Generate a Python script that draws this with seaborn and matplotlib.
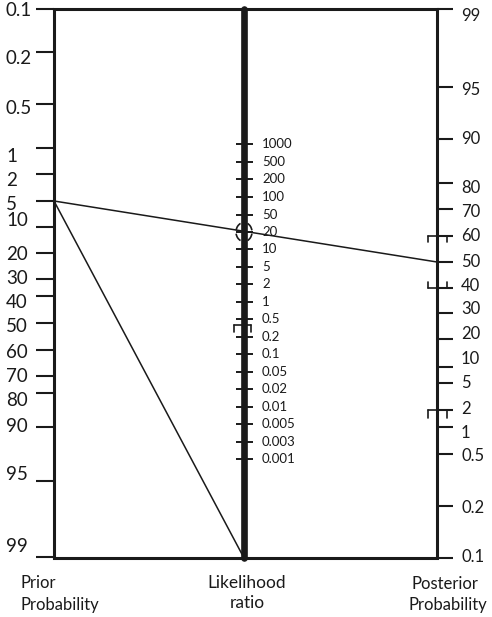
import matplotlib
matplotlib.use("Agg")
import matplotlib.pyplot as plt
from matplotlib.patches import Arc
import pandas as pd
import seaborn as sns

# Fagan nomogram, drawn in picture coordinates (y grows downward)
PRIOR_LABELS = ["0.1", "0.2", "0.5", "1", "2", "5", "10", "20", "30", "40", "50",
                "60", "70", "80", "90", "95", "99"]
PRIOR_POS = [9, 52, 104, 148, 174, 201, 227, 253, 279, 296, 323, 350, 376, 393, 427, 481, 557]
PRIOR_LABEL_POS = [10, 58, 108, 157, 180, 205, 221, 254, 279, 303, 327, 352, 376, 400, 426, 475, 547]

LR_LABELS = ["1000", "500", "200", "100", "50", "20", "10", "5", "2", "1", "0.5", "0.2",
             "0.1", "0.05", "0.02", "0.01", "0.005", "0.003", "0.001"]
LR_POS = [144, 162, 179, 197, 215, 232, 249, 267, 284, 302, 319, 337, 354, 372, 389, 407,
          424, 442, 459]

POST_LABELS = ["99", "95", "90", "80", "70", "60", "50", "40", "30", "20", "10", "5", "2",
               "1", "0.5", "0.2", "0.1"]
POST_POS = [9, 87, 139, 183, 209, 236, 262, 288, 313, 339, 367, 383, 410, 427, 454, 506, 558]
POST_LABEL_POS = [16, 90, 139, 188, 212, 236, 262, 286, 309, 334, 359, 383, 409, 433, 456, 508, 557]

# reading lines: prior 5% -> LR 20 -> posterior 50%, and prior 5% -> bottom of LR scale
READ_LINE = ["a", "a", "b", "b"]
READ_X = [54, 437, 54, 244]
READ_Y = [201, 262, 201, 558]

XL, XC, XR = 54, 244, 437
TOP, BOT = 9, 558

sns.set_theme(style="white")
plt.rcParams["font.family"] = ["Lato", "DejaVu Sans"]

fig = plt.figure(figsize=(4.92, 6.17), dpi=100)
ax = fig.add_axes([0, 0, 1, 1])

ink = "#1a1a1a"
# frame and scales
ax.plot([XL, XR], [TOP, TOP], color=ink, lw=2.2, solid_capstyle="projecting")
ax.plot([XL, XR], [BOT, BOT], color=ink, lw=2.2, solid_capstyle="projecting")
ax.plot([XL, XL], [TOP, BOT], color=ink, lw=2.2)
ax.plot([XR, XR], [TOP, BOT], color=ink, lw=2.2)
ax.plot([XC, XC], [TOP, BOT], color=ink, lw=4.8)

# ticks and labels
ax.hlines(PRIOR_POS, XL - 18, XL, color=ink, lw=1.5)
for lab, y in zip(PRIOR_LABELS, PRIOR_LABEL_POS):
    ax.text(6, y, lab, ha="left", va="center", fontsize=13.5, color=ink)

ax.hlines(LR_POS, XC - 8, XC + 9, color=ink, lw=1.4)
for lab, y in zip(LR_LABELS, LR_POS):
    ax.text(262, y, lab, ha="left", va="center", fontsize=9.5, color=ink)

ax.hlines(POST_POS, XR, XR + 16, color=ink, lw=1.5)
for lab, y in zip(POST_LABELS, POST_LABEL_POS):
    ax.text(461, y, lab, ha="left", va="center", fontsize=12, color=ink)

# confidence brackets
for y, d in [(236, 6), (288, -6), (410, 8)]:
    ax.plot([428, XR], [y, y], color=ink, lw=1.2)
    ax.plot([428, 428], [y, y + d], color=ink, lw=1.2)
    ax.plot([447, 447], [y, y + d], color=ink, lw=1.2)
ax.plot([234, 251], [325, 325], color=ink, lw=1.2)
ax.plot([234, 234], [325, 332], color=ink, lw=1.2)
ax.plot([251, 251], [325, 332], color=ink, lw=1.2)
for t1, t2 in [(112, 168), (192, 248), (-68, -12), (12, 68)]:
    ax.add_patch(Arc((XC, 232), 16, 19, theta1=t1, theta2=t2, color=ink, lw=1.2))

# reading lines
lines = pd.DataFrame({"line": READ_LINE, "x": READ_X, "y": READ_Y})
sns.lineplot(data=lines, x="x", y="y", units="line", estimator=None, sort=False,
             color=ink, lw=1.1, ax=ax, legend=False)
ax.set_xlim(0, 492)
ax.set_ylim(617, 0)
ax.axis("off")

# axis titles
ax.text(20, 583, "Prior", ha="left", va="center", fontsize=12, color=ink)
ax.text(20, 605, "Probability", ha="left", va="center", fontsize=12, color=ink)
ax.text(247, 583, "Likelihood", ha="center", va="center", fontsize=12.5, color=ink)
ax.text(247, 603, "ratio", ha="center", va="center", fontsize=12.5, color=ink)
ax.text(445, 584, "Posterior", ha="center", va="center", fontsize=12, color=ink)
ax.text(448, 605, "Probability", ha="center", va="center", fontsize=12, color=ink)

fig.savefig("out.png", dpi=100)
